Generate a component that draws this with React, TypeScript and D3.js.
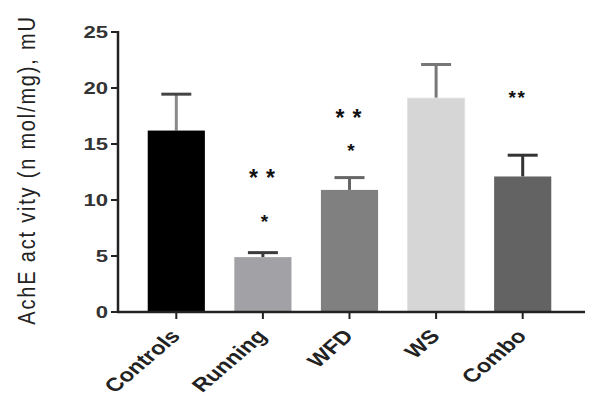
import { useEffect, useRef } from 'react';
import * as d3 from 'd3';

const groups = ['Controls', 'Running', 'WFD', 'WS', 'Combo'];
const means = [16.2, 4.9, 10.9, 19.1, 12.1];
const errors = [3.25, 0.4, 1.1, 3.0, 1.9];
const fills = ['#000000', '#a2a2a6', '#808080', '#d6d6d6', '#636363'];
const errColors = ['#8a8a8a', '#3a3a3a', '#666666', '#777777', '#333333'];
const yTicks = [0, 5, 10, 15, 20, 25];
// significance marks: [group, value, text]
const marks: [string, number, string][] = [
  ['Running', 12.4, '* *'],
  ['Running', 8.5, '*'],
  ['WFD', 17.8, '* *'],
  ['WFD', 14.8, '*'],
  ['Combo', 19.5, '**'],
];

export default function App() {
  const svgRef = useRef<SVGSVGElement>(null);

  useEffect(() => {
    if (!svgRef.current) return;
    const width = 606;
    const height = 419;
    const svg = d3.select(svgRef.current);
    svg.selectAll('*').remove();
    svg.attr('width', width).attr('height', height);

    const axisX = 118;
    const x = d3.scaleBand().domain(groups).range([133, 566]).paddingInner(0.34).paddingOuter(0.17);
    const y = d3.scaleLinear().domain([0, 25]).range([312, 32]);

    const font = 'Arial, "Liberation Sans", sans-serif';

    // bars with error bars
    groups.forEach((g, i) => {
      const bx = x(g)!;
      const bw = x.bandwidth();
      const cx = bx + bw / 2;
      const top = y(means[i] + errors[i]);
      svg.append('line')
        .attr('x1', cx).attr('x2', cx)
        .attr('y1', y(means[i])).attr('y2', top)
        .attr('stroke', errColors[i]).attr('stroke-width', 3);
      svg.append('line')
        .attr('x1', cx - 15).attr('x2', cx + 15)
        .attr('y1', top).attr('y2', top)
        .attr('stroke', i === 0 ? '#444' : errColors[i]).attr('stroke-width', 3);
      svg.append('rect')
        .attr('x', bx).attr('y', y(means[i]))
        .attr('width', bw).attr('height', y(0) - y(means[i]))
        .attr('fill', fills[i])
        .attr('stroke', i === 3 ? '#e4e4e4' : 'none');
    });

    // y axis
    svg.append('line')
      .attr('x1', axisX).attr('x2', axisX)
      .attr('y1', y(25) - 1).attr('y2', y(0) + 1)
      .attr('stroke', '#222').attr('stroke-width', 2.5);
    yTicks.forEach((t) => {
      svg.append('line')
        .attr('x1', axisX - 7).attr('x2', axisX)
        .attr('y1', y(t)).attr('y2', y(t))
        .attr('stroke', '#222').attr('stroke-width', 2);
      svg.append('text')
        .attr('transform', `translate(${axisX - 10}, ${y(t) + 6}) scale(1.3, 1)`)
        .attr('text-anchor', 'end')
        .attr('font-family', font).attr('font-size', 17).attr('font-weight', 'bold')
        .attr('fill', '#333')
        .text(t);
    });

    // x axis
    svg.append('line')
      .attr('x1', axisX - 1).attr('x2', 585)
      .attr('y1', y(0)).attr('y2', y(0))
      .attr('stroke', '#222').attr('stroke-width', 2.5);
    groups.forEach((g) => {
      const cx = x(g)! + x.bandwidth() / 2;
      svg.append('line')
        .attr('x1', cx).attr('x2', cx)
        .attr('y1', y(0)).attr('y2', y(0) + 7)
        .attr('stroke', '#222').attr('stroke-width', 2);
      svg.append('text')
        .attr('transform', `translate(${cx + 5}, ${y(0) + 25}) scale(1.25, 1) rotate(-47)`)
        .attr('text-anchor', 'end')
        .attr('font-family', font).attr('font-size', 19).attr('font-weight', 'bold')
        .attr('fill', '#222')
        .text(g);
    });

    // y title
    svg.append('text')
      .attr('transform', `translate(35, ${(y(0) + y(25)) / 2 - 2}) scale(1.15, 1) rotate(-90)`)
      .attr('text-anchor', 'middle')
      .attr('font-family', font).attr('font-size', 20)
      .attr('letter-spacing', 1.8)
      .attr('fill', '#222')
      .text('AchE act vity (n mol/mg), mU');

    // significance marks, one asterisk at a time
    marks.forEach(([g, v, txt]) => {
      const cx = x(g)! + x.bandwidth() / 2;
      const stars = txt.replace(/ /g, '').length;
      const tight = !txt.includes(' ');
      const gap = tight ? 9 : 17;
      const size = tight ? 19 : 23;
      const shift = stars > 1 ? (tight ? -6 : -1) : 1.5;
      for (let k = 0; k < stars; k++) {
        const sx = cx + shift + (k - (stars - 1) / 2) * gap;
        svg.append('text')
          .attr('x', sx).attr('y', y(v) + size * 0.57)
          .attr('text-anchor', 'middle')
          .attr('font-family', font).attr('font-size', size).attr('font-weight', 'bold')
          .attr('fill', '#111')
          .text('*');
      }
    });
  }, []);

  return (
    <div style={{ position: 'absolute', left: 0, top: 0 }}>
      <svg ref={svgRef} />
    </div>
  );
}
